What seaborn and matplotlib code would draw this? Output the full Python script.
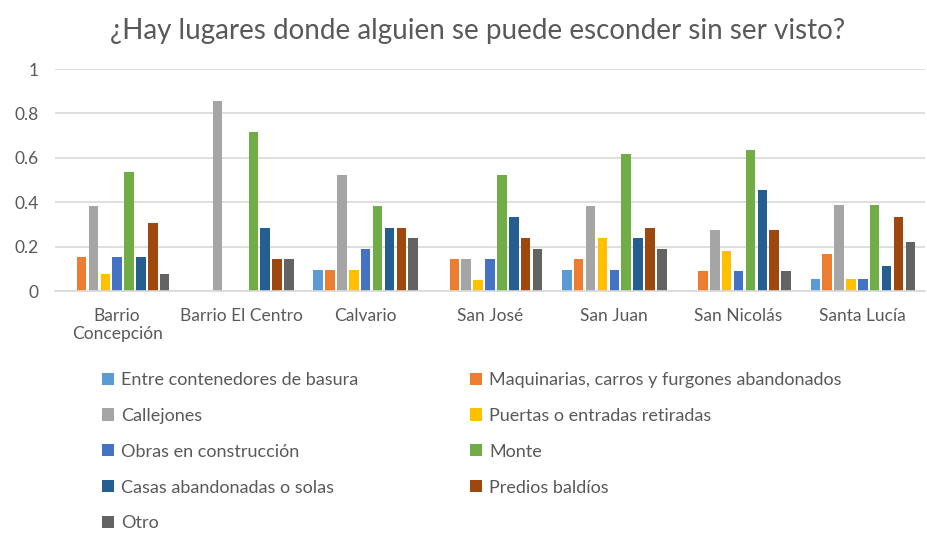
import pandas as pd
import numpy as np

import matplotlib
matplotlib.use("Agg")
import matplotlib.pyplot as plt
import seaborn as sns

# =====================================================
# DATA
# =====================================================

barrios = [
    "Barrio\nConcepción",
    "Barrio El Centro",
    "Calvario",
    "San José",
    "San Juan",
    "San Nicolás",
    "Santa Lucía",
]

entre_contenedores = [0.0, 0.0, 0.095, 0.0, 0.095, 0.0, 0.056]
maquinarias = [0.154, 0.0, 0.095, 0.143, 0.143, 0.091, 0.167]
callejones = [0.385, 0.857, 0.524, 0.143, 0.381, 0.273, 0.389]
puertas = [0.077, 0.0, 0.095, 0.048, 0.238, 0.182, 0.056]
obras = [0.154, 0.0, 0.190, 0.143, 0.095, 0.091, 0.056]
monte = [0.538, 0.714, 0.381, 0.524, 0.619, 0.636, 0.389]
casas = [0.154, 0.286, 0.286, 0.333, 0.238, 0.455, 0.111]
predios = [0.308, 0.143, 0.286, 0.238, 0.286, 0.273, 0.333]
otro = [0.077, 0.143, 0.238, 0.190, 0.190, 0.091, 0.222]

series_names = [
    "Entre contenedores de basura",
    "Maquinarias, carros y furgones abandonados",
    "Callejones",
    "Puertas o entradas retiradas",
    "Obras en construcción",
    "Monte",
    "Casas abandonadas o solas",
    "Predios baldíos",
    "Otro",
]

series_values = [
    entre_contenedores, maquinarias, callejones, puertas, obras,
    monte, casas, predios, otro,
]

colors = [
    "#5B9BD5", "#ED7D31", "#A5A5A5", "#FFC000", "#4472C4",
    "#70AD47", "#255E91", "#9E480E", "#636363",
]

yticks = [0, 0.2, 0.4, 0.6, 0.8, 1]
ytick_labels = ["0", "0.2", "0.4", "0.6", "0.8", "1"]

rows = []
for name, vals in zip(series_names, series_values):
    for b, v in zip(barrios, vals):
        rows.append({"Barrio": b, "Lugar": name, "Valor": v})
df = pd.DataFrame(rows)

# =====================================================
# SETTINGS
# =====================================================

sns.set_theme(style="white")
plt.rcParams["font.family"] = ["Lato", "DejaVu Sans"]

text_color = "#595959"

# =====================================================
# PLOT
# =====================================================

fig = plt.figure(figsize=(9.28, 5.37), dpi=100)
ax = fig.add_axes([55 / 928, 1 - 291 / 537, 870 / 928, 222 / 537])

sns.barplot(
    data=df,
    x="Barrio",
    y="Valor",
    hue="Lugar",
    order=barrios,
    hue_order=series_names,
    palette=colors,
    saturation=1,
    width=0.86,
    gap=0.2,
    linewidth=0,
    ax=ax
)

ax.set_ylim(0, 1)
ax.set_yticks(yticks)
ax.set_yticklabels(ytick_labels)
ax.yaxis.grid(True, color="#D9D9D9", linewidth=1.2)
ax.set_axisbelow(True)

for side in ["top", "right", "left"]:
    ax.spines[side].set_visible(False)
ax.spines["bottom"].set_color("#D9D9D9")
ax.spines["bottom"].set_linewidth(1.2)

ax.tick_params(axis="both", length=0, labelsize=12.5, labelcolor=text_color)
ax.tick_params(axis="x", pad=12)
ax.tick_params(axis="y", pad=12)
ax.set_xlabel("")
ax.set_ylabel("")

fig.suptitle(
    "¿Hay lugares donde alguien se puede esconder sin ser visto?",
    x=478 / 928,
    y=1 - 31 / 537,
    va="center",
    fontsize=20,
    color=text_color
)

handles, labels = ax.get_legend_handles_labels()
ax.get_legend().remove()
order = [0, 2, 4, 6, 8, 1, 3, 5, 7]

fig.legend(
    [handles[i] for i in order],
    [labels[i] for i in order],
    loc="upper left",
    bbox_to_anchor=(102 / 928, 1 - 372 / 537),
    ncol=2,
    frameon=False,
    fontsize=13,
    labelcolor=text_color,
    handlelength=0.65,
    handleheight=0.65,
    handletextpad=0.4,
    labelspacing=1.1,
    columnspacing=6.2,
    borderpad=0,
    borderaxespad=0
)

plt.savefig("out.png", dpi=100)
